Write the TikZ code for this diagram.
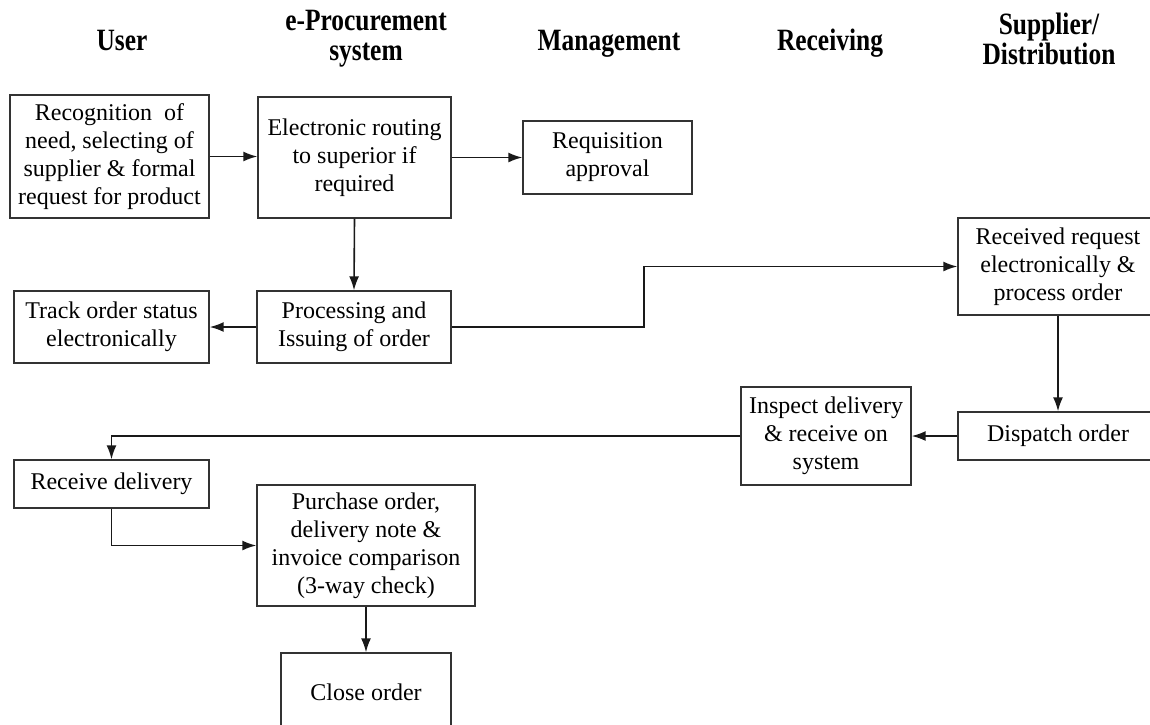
\documentclass[tikz,border=0pt]{standalone}
\usepackage{fontspec}
\setmainfont{Liberation Serif}
\newfontfamily\headfont[FakeStretch=0.82]{Liberation Serif}
\usetikzlibrary{arrows.meta}

\tikzset{
    box/.style={draw=black!80, line width=1.4pt, align=center, inner sep=0pt,
        font=\fontsize{24}{28}\selectfont},
    head/.style={align=center, font=\headfont\bfseries\fontsize{31}{30}\selectfont},
    flow/.style={->, line width=1.6pt, draw=black!90}
}

\begin{document}
\begin{tikzpicture}[x=1pt, y=-1pt, >={Latex[length=14pt,width=10pt]}]
    \useasboundingbox (0,0) rectangle (1150,724);

    % Column headings
    \node[head, anchor=base] (hUser) at (122,50) {User};
    \node[head] (hSys)  at (366,39) {e-Procurement\\system};
    \node[head, anchor=base] (hMan)  at (609,50) {Management};
    \node[head, anchor=base] (hRec)  at (830,50) {Receiving};
    \node[head] (hSup)  at (1049,39) {Supplier/\\Distribution};

    % Boxes
    \node[box, minimum width=199, minimum height=123] (need) at (109.5,156.5)
        {Recognition\ \ of\\need, selecting of\\supplier \& formal\\request for product};
    \node[box, minimum width=193, minimum height=121] (route) at (354.5,157.5)
        {Electronic routing\\to superior if\\required};
    \node[box, minimum width=169, minimum height=73] (approve) at (607.5,157.5)
        {Requisition\\approval};
    \node[box, minimum width=195, minimum height=72] (track) at (111.5,327)
        {Track order status\\electronically};
    \node[box, minimum width=194, minimum height=72] (issue) at (354,327)
        {Processing and\\Issuing of order};
    \node[box, minimum width=200, minimum height=97] (request) at (1058,266.5)
        {Received request\\electronically \&\\process order};
    \node[box, minimum width=170, minimum height=98] (inspect) at (826,436)
        {Inspect delivery\\\& receive on\\system};
    \node[box, minimum width=200, minimum height=48] (dispatch) at (1058,436)
        {Dispatch order};
    \node[box, minimum width=195, minimum height=48] (receive) at (111.5,484)
        {Receive delivery};
    \node[box, minimum width=218, minimum height=121] (compare) at (366,545.5)
        {Purchase order,\\delivery note \&\\invoice comparison\\(3-way check)};
    \node[box, minimum width=170, minimum height=78] (close) at (366,692)
        {Close order};

    % Connectors
    \coordinate (kink) at (644,300);
    \draw[flow] (need.east) -- (need.east -| route.west);
    \draw[flow] (route.east) -- (approve.west);
    \draw[flow] (route.south) -- (issue.north);
    \draw[flow] (issue.west) -- (track.east);
    \draw[flow] (issue.east) -| (kink) |- (request.west);
    \draw[flow] (request.south) -- (dispatch.north);
    \draw[flow] (dispatch.west) -- (inspect.east);
    \draw[flow] (inspect.west) -| (receive.north);
    \draw[flow] (receive.south) |- (compare.west);
    \draw[flow] (compare.south) -- (close.north);
\end{tikzpicture}
\end{document}
